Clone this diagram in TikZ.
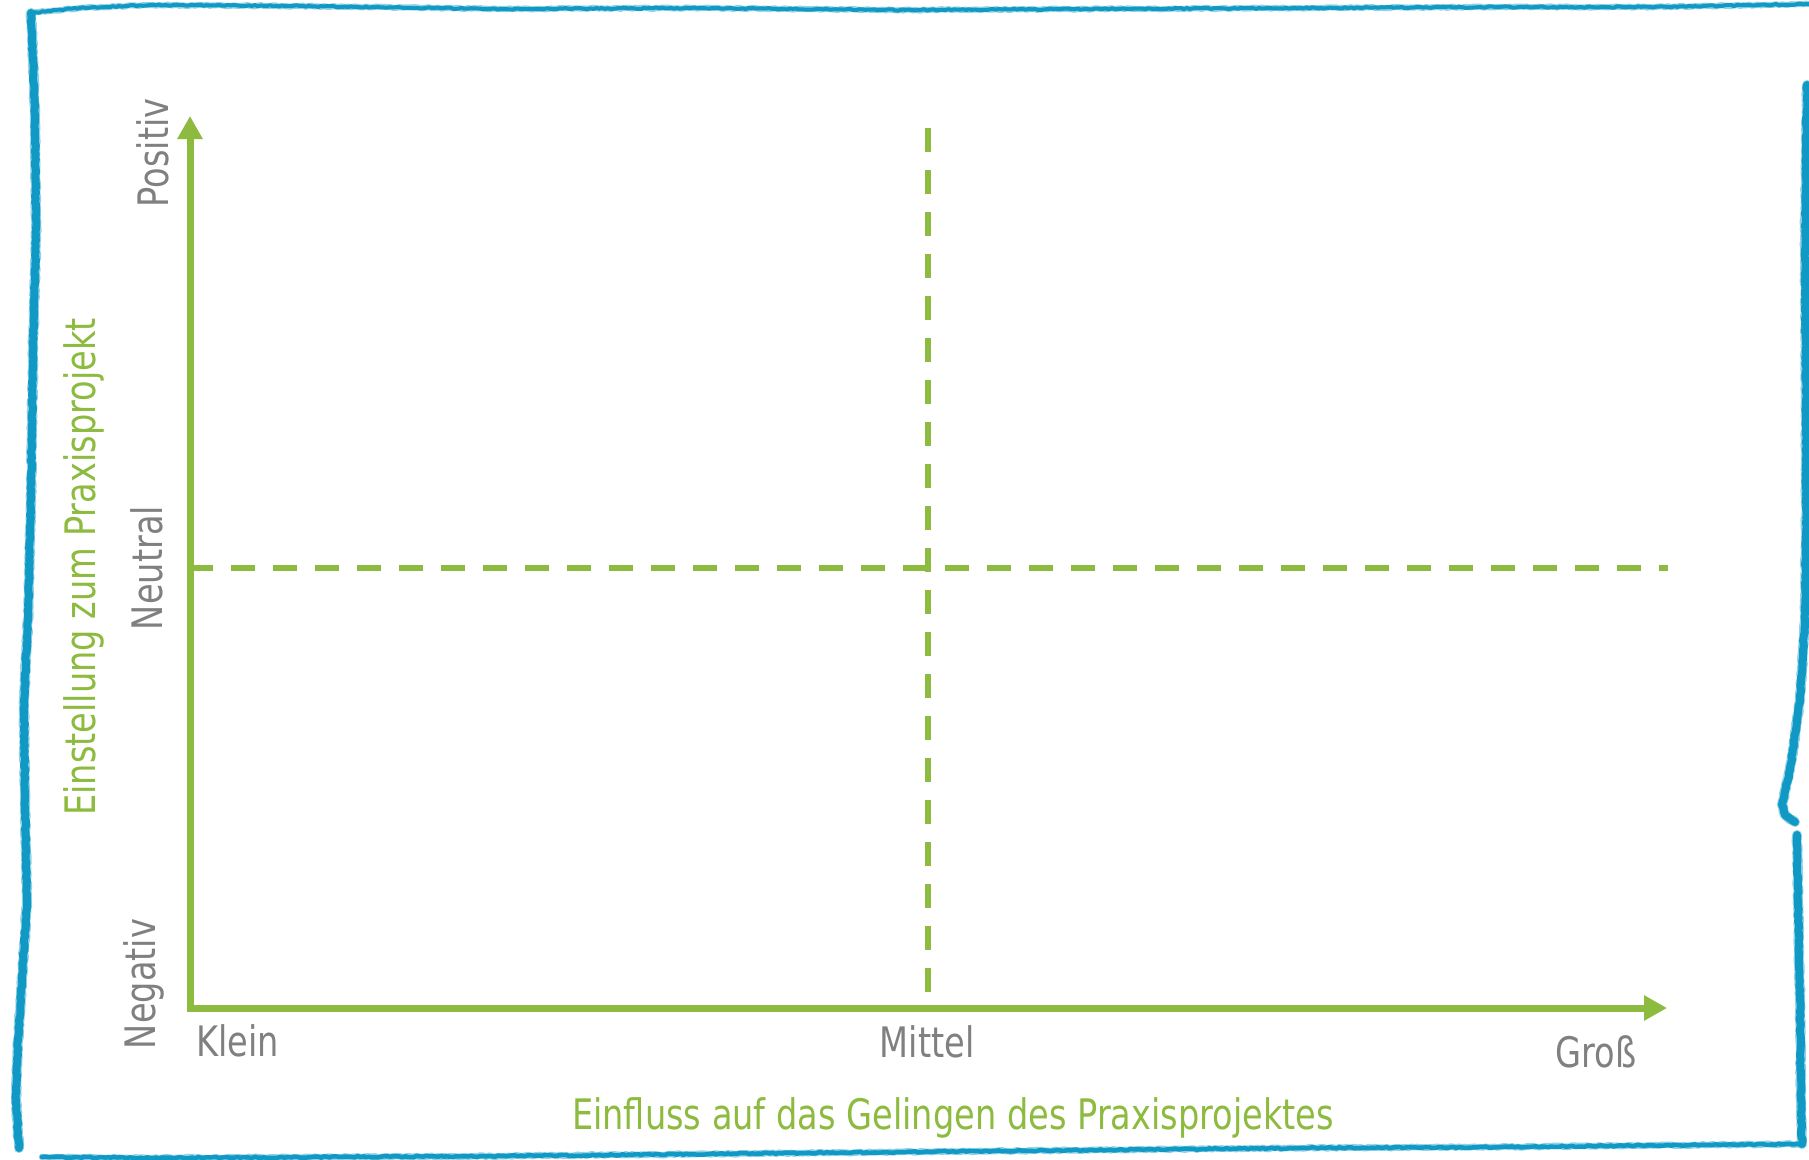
\documentclass[tikz,border=0pt]{standalone}
\usepackage{fontspec}
\setmainfont{DejaVu Sans}[FakeStretch=0.80]
\usetikzlibrary{arrows.meta,decorations.pathmorphing}

\definecolor{axisgreen}{RGB}{141,187,63}
\definecolor{labelgray}{RGB}{128,128,128}
\definecolor{frameblue}{RGB}{17,153,198}

\tikzset{
  axisline/.style={draw=axisgreen, line width=7pt, line join=miter},
  guide/.style={draw=axisgreen, line width=6pt, dash pattern=on 24pt off 18pt},
  scalelabel/.style={text=labelgray, inner sep=0pt, font=\fontsize{42}{50}\selectfont},
  axistitle/.style={text=axisgreen, inner sep=0pt, font=\fontsize{42}{50}\selectfont},
  rough/.style={draw=frameblue, line cap=round, line join=round,
    decorate, decoration={random steps, segment length=3pt, amplitude=0.7pt}},
  fuzz/.style={rough, draw opacity=0.45},
}

\begin{document}
\begin{tikzpicture}[x=1pt, y=-1pt]
\pgfmathsetseed{4711}
% page
\fill[white] (0,0) rectangle (1809,1159);
\useasboundingbox (0,0) rectangle (1809,1159);

% hand-drawn frame: a soft wider stroke under a firmer one
\foreach \w/\sty in {2/fuzz, 0/rough}{
  \draw[\sty, line width=4pt+\w pt]
    (30,13) -- (80,8) -- (150,5) -- (300,6) -- (500,9) -- (700,8) -- (900,10)
    -- (1100,9) -- (1300,8) -- (1500,7) -- (1650,7) -- (1809,4);
  \draw[\sty, line width=8pt+\w pt]
    (31,13) -- (33,60) -- (35,115) -- (36,240) -- (33,350) -- (31,500)
    -- (28,620) -- (24,700) -- (25,800) -- (27,900) -- (22,980)
    -- (18,1040) -- (16,1100) -- (19,1148);
  \draw[\sty, line width=4.5pt+\w pt]
    (42,1157) -- (150,1158) -- (500,1156) -- (900,1152) -- (1300,1148)
    -- (1500,1147) -- (1700,1145) -- (1802,1144);
  \draw[\sty, line width=8pt+\w pt]
    (1807,85) -- (1805,250) -- (1806,400) -- (1806,550) -- (1805,620)
    -- (1800,700) -- (1790,770) -- (1782,805) -- (1785,815) -- (1795,822);
  \draw[\sty, line width=8pt+\w pt]
    (1797,835) -- (1798,900) -- (1800,1000) -- (1801,1100) -- (1802,1144);
}

% axes
\coordinate (O) at (190,1008);
\coordinate (ytip) at (190,116);
\coordinate (xtip) at (1667,1008);
\draw[axisline, {Triangle[length=23pt,width=24pt]}-{Triangle[length=23pt,width=24pt]}]
  (ytip) -- (O) -- (xtip);

% quadrant guides
\coordinate (hstart) at (189,568);
\coordinate (hend) at (1668,568);
\coordinate (vstart) at (928,128);
\coordinate (vend) at (928,992);
\draw[guide] (hstart) -- (hend);
\draw[guide] (vstart) -- (vend);

% scale labels
\node[scalelabel, rotate=90, anchor=base] (pos) at (168,153) {Positiv};
\node[scalelabel, rotate=90, anchor=base] (neu) at (162,568) {Neutral};
\node[scalelabel, rotate=90, anchor=base] (neg) at (155,984) {Negativ};
\node[scalelabel, anchor=base west] (klein) at (196,1056) {Klein};
\node[scalelabel, anchor=base] (mittel) at (927,1057) {Mittel};
\node[scalelabel, anchor=base] (gross) at (1596,1067) {Groß};

% axis titles
\node[axistitle, anchor=base] (xtitle) at (953,1129) {Einfluss auf das Gelingen des Praxisprojektes};
\node[axistitle, rotate=90, anchor=base] (ytitle) at (95,567) {Einstellung zum Praxisprojekt};
\end{tikzpicture}
\end{document}
